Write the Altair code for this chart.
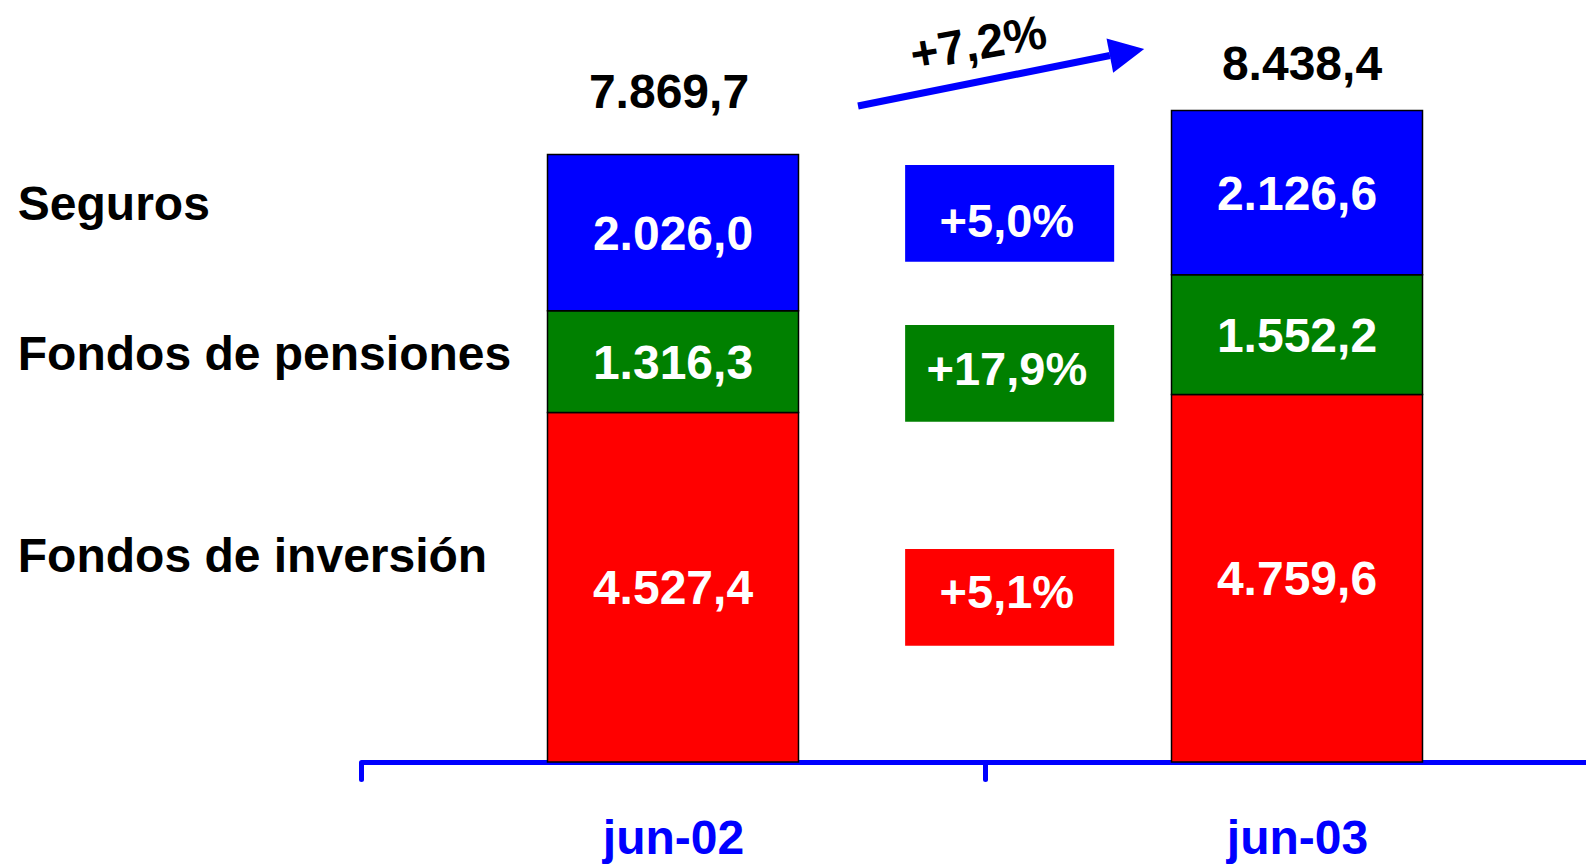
import altair as alt
import pandas as pd

# ---------------- data ----------------
periods = ["jun-02", "jun-03"]
series = ["Fondos de inversión", "Fondos de pensiones", "Seguros"]
fondos_inversion = [4527.4, 4759.6]
fondos_pensiones = [1316.3, 1552.2]
seguros = [2026.0, 2126.6]
series_values = [fondos_inversion, fondos_pensiones, seguros]
series_colors = ["#FF0000", "#008000", "#0000FF"]


def es(v, d=1):
    s = f"{v:,.{d}f}"
    return s.replace(",", "X").replace(".", ",").replace("X", ".")


rows = []
for pi, p in enumerate(periods):
    base = 0.0
    for si, s in enumerate(series):
        v = series_values[si][pi]
        rows.append(dict(period=p, series=s, order=si, lo=base, hi=base + v,
                         mid=base + v / 2, label=es(v)))
        base += v
bars_df = pd.DataFrame(rows)

totals = [sum(series_values[si][pi] for si in range(len(series))) for pi in range(len(periods))]
totals_df = pd.DataFrame(dict(period=periods, total=totals, label=[es(t) for t in totals]))

growth = [series_values[si][1] / series_values[si][0] - 1 for si in range(len(series))]
total_growth = totals[1] / totals[0] - 1

# ---------------- layout (chart units) ----------------
W, H = 1578, 754
Y_MAX = 9767
X_RANGE = [353, 1601]
FONT = "Liberation Sans"
BLUE = "#0000FF"

label_x = -0.55
label_y = [2685, 5298, 7235]
box_x0, box_x1 = 0.872, 1.207
box_cy = [2133, 5035, 7106]
box_half = 626
box_text_x = 1.035
box_text_y = [2215, 5110, 7021]

left_df = pd.DataFrame(dict(x=[label_x] * 3, y=label_y, text=series))
box_df = pd.DataFrame(dict(
    x=[box_x0] * 3, x2=[box_x1] * 3,
    y=[c - box_half for c in box_cy], y2=[c + box_half for c in box_cy],
    series=series,
    tx=[box_text_x] * 3, ty=box_text_y,
    text=["+" + es(g * 100) + "%" for g in growth],
))
arrow_df = pd.DataFrame(dict(x=[0.7965], y=[8497], x2=[1.2003], y2=[9152],
                             hx=[1.2276], hy=[9194], tx=[0.989], ty=[9320],
                             text=["+" + es(total_growth * 100) + "%"]))

yscale = alt.Scale(domain=[0, Y_MAX], nice=False, zero=False)
xband = alt.Scale(domain=periods, range=X_RANGE, paddingInner=0, paddingOuter=0)
xq = alt.Scale(domain=[0, 2], range=X_RANGE, nice=False, zero=False)
color_scale = alt.Scale(domain=series, range=series_colors)

x_axis = alt.Axis(domainColor=BLUE, domainWidth=5, tickColor=BLUE, tickWidth=5,
                  tickSize=17, tickCap="round", tickBand="extent",
                  labelFont=FONT, labelFontSize=48, labelFontWeight="bold",
                  labelColor=BLUE, labelAngle=0, labelBaseline="alphabetic",
                  labelPadding=74, labelOverlap=False, grid=False)


def xb():
    return alt.X("period:N", scale=xband, sort=periods, title=None, axis=x_axis)


# ---------------- band layers ----------------
bars = alt.Chart(bars_df).mark_bar(width=251, stroke="black", strokeWidth=1.5).encode(
    x=xb(),
    y=alt.Y("lo:Q", scale=yscale, axis=None),
    y2="hi:Q",
    color=alt.Color("series:N", scale=color_scale, legend=None),
)

seg_labels = alt.Chart(bars_df).mark_text(font=FONT, fontSize=48, fontWeight="bold",
                                          color="white", baseline="middle", dy=3).encode(
    x=xb(),
    y=alt.Y("mid:Q", scale=yscale, axis=None),
    text="label:N",
)

tot1 = alt.Chart(totals_df).transform_filter(alt.datum.period == periods[0]).mark_text(
    font=FONT, fontSize=48, fontWeight="bold", color="black", baseline="middle", dy=-60, dx=-4
).encode(
    x=xb(),
    y=alt.Y("total:Q", scale=yscale, axis=None),
    text="label:N",
)
tot2 = alt.Chart(totals_df).transform_filter(alt.datum.period == periods[1]).mark_text(
    font=FONT, fontSize=48, fontWeight="bold", color="black", baseline="middle", dy=-45, dx=5
).encode(
    x=xb(),
    y=alt.Y("total:Q", scale=yscale, axis=None),
    text="label:N",
)

band_layer = alt.layer(bars, seg_labels, tot1, tot2)

# ---------------- annotation layers ----------------
boxes = alt.Chart(box_df).mark_rect().encode(
    x=alt.X("x:Q", scale=xq, axis=None), x2="x2:Q",
    y=alt.Y("y:Q", scale=yscale, axis=None), y2="y2:Q",
    color=alt.Color("series:N", scale=color_scale, legend=None),
)
box_text = alt.Chart(box_df).mark_text(font=FONT, fontSize=47, fontWeight="bold",
                                       color="white", baseline="middle", dy=3).encode(
    x=alt.X("tx:Q", scale=xq, axis=None),
    y=alt.Y("ty:Q", scale=yscale, axis=None),
    text="text:N",
)
left_labels = alt.Chart(left_df).mark_text(font=FONT, fontSize=48, fontWeight="bold",
                                           color="black", align="left", baseline="middle", dy=3).encode(
    x=alt.X("x:Q", scale=xq, axis=None),
    y=alt.Y("y:Q", scale=yscale, axis=None),
    text="text:N",
)
arrow_line = alt.Chart(arrow_df).mark_rule(color=BLUE, strokeWidth=7).encode(
    x=alt.X("x:Q", scale=xq, axis=None), x2="x2:Q",
    y=alt.Y("y:Q", scale=yscale, axis=None), y2="y2:Q",
)
arrow_head = alt.Chart(arrow_df).mark_point(shape="M-1,-1L1,0L-1,1Z", size=1225, filled=True,
                                            color=BLUE, opacity=1, angle=349).encode(
    x=alt.X("hx:Q", scale=xq, axis=None),
    y=alt.Y("hy:Q", scale=yscale, axis=None),
)
arrow_text = alt.Chart(arrow_df).mark_text(font=FONT, fontSize=48, fontWeight="bold",
                                           color="black", baseline="middle", dy=3, angle=350).encode(
    x=alt.X("tx:Q", scale=xq, axis=None),
    y=alt.Y("ty:Q", scale=yscale, axis=None),
    text="text:N",
)

annot_layer = alt.layer(boxes, box_text, left_labels, arrow_line, arrow_head, arrow_text)

chart = alt.layer(band_layer, annot_layer).resolve_scale(x="independent").properties(
    width=W, height=H,
    autosize=alt.AutoSizeParams(type="none"),
    padding={"left": 0, "top": 0, "right": 0, "bottom": 104},
    background="white",
).configure_view(stroke="transparent")

chart.save("out.html", embed_options={"renderer": "svg", "actions": False})
